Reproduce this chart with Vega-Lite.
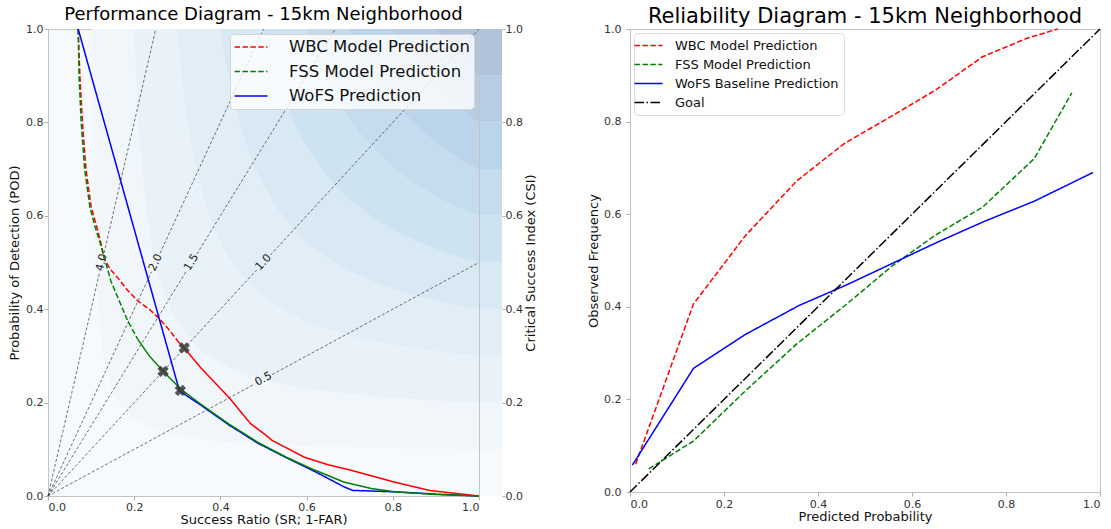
{
  "$schema": "https://vega.github.io/schema/vega-lite/v6.json",
  "background": "white",
  "padding": {"left": 8, "top": 5, "right": 5, "bottom": 0},
  "datasets": {
    "bands": [
      {"level": 1, "sr": 0.1, "pod": 1}, {"level": 1, "sr": 0.1047, "pod": 0.6897}, {"level": 1, "sr": 0.1121, "pod": 0.4808}, {"level": 1, "sr": 0.1247, "pod": 0.3356}, {"level": 1, "sr": 0.146, "pod": 0.241}, {"level": 1, "sr": 0.1818, "pod": 0.1818}, {"level": 1, "sr": 0.241, "pod": 0.146}, {"level": 1, "sr": 0.3356, "pod": 0.1247}, {"level": 1, "sr": 0.4808, "pod": 0.1121}, {"level": 1, "sr": 0.6897, "pod": 0.1047}, {"level": 1, "sr": 1, "pod": 0.1},
      {"level": 2, "sr": 0.2, "pod": 1}, {"level": 2, "sr": 0.2083, "pod": 0.8333}, {"level": 2, "sr": 0.2212, "pod": 0.6757}, {"level": 2, "sr": 0.2427, "pod": 0.5319}, {"level": 2, "sr": 0.2778, "pod": 0.4167}, {"level": 2, "sr": 0.3333, "pod": 0.3333}, {"level": 2, "sr": 0.4167, "pod": 0.2778}, {"level": 2, "sr": 0.5319, "pod": 0.2427}, {"level": 2, "sr": 0.6757, "pod": 0.2212}, {"level": 2, "sr": 0.8333, "pod": 0.2083}, {"level": 2, "sr": 1, "pod": 0.2},
      {"level": 3, "sr": 0.3, "pod": 1}, {"level": 3, "sr": 0.3109, "pod": 0.8955}, {"level": 3, "sr": 0.3275, "pod": 0.7813}, {"level": 3, "sr": 0.3546, "pod": 0.6608}, {"level": 3, "sr": 0.3974, "pod": 0.5505}, {"level": 3, "sr": 0.4615, "pod": 0.4615}, {"level": 3, "sr": 0.5505, "pod": 0.3974}, {"level": 3, "sr": 0.6608, "pod": 0.3546}, {"level": 3, "sr": 0.7813, "pod": 0.3275}, {"level": 3, "sr": 0.8955, "pod": 0.3109}, {"level": 3, "sr": 1, "pod": 0.3},
      {"level": 4, "sr": 0.4, "pod": 1}, {"level": 4, "sr": 0.4124, "pod": 0.9302}, {"level": 4, "sr": 0.431, "pod": 0.8475}, {"level": 4, "sr": 0.4608, "pod": 0.7519}, {"level": 4, "sr": 0.5063, "pod": 0.6557}, {"level": 4, "sr": 0.5714, "pod": 0.5714}, {"level": 4, "sr": 0.6557, "pod": 0.5063}, {"level": 4, "sr": 0.7519, "pod": 0.4608}, {"level": 4, "sr": 0.8475, "pod": 0.431}, {"level": 4, "sr": 0.9302, "pod": 0.4124}, {"level": 4, "sr": 1, "pod": 0.4},
      {"level": 5, "sr": 0.5, "pod": 1}, {"level": 5, "sr": 0.5128, "pod": 0.9524}, {"level": 5, "sr": 0.5319, "pod": 0.8929}, {"level": 5, "sr": 0.5618, "pod": 0.8197}, {"level": 5, "sr": 0.6061, "pod": 0.7407}, {"level": 5, "sr": 0.6667, "pod": 0.6667}, {"level": 5, "sr": 0.7407, "pod": 0.6061}, {"level": 5, "sr": 0.8197, "pod": 0.5618}, {"level": 5, "sr": 0.8929, "pod": 0.5319}, {"level": 5, "sr": 0.9524, "pod": 0.5128}, {"level": 5, "sr": 1, "pod": 0.5},
      {"level": 6, "sr": 0.6, "pod": 1}, {"level": 6, "sr": 0.6122, "pod": 0.9677}, {"level": 6, "sr": 0.6303, "pod": 0.9259}, {"level": 6, "sr": 0.6579, "pod": 0.8721}, {"level": 6, "sr": 0.6977, "pod": 0.8108}, {"level": 6, "sr": 0.75, "pod": 0.75}, {"level": 6, "sr": 0.8108, "pod": 0.6977}, {"level": 6, "sr": 0.8721, "pod": 0.6579}, {"level": 6, "sr": 0.9259, "pod": 0.6303}, {"level": 6, "sr": 0.9677, "pod": 0.6122}, {"level": 6, "sr": 1, "pod": 0.6},
      {"level": 7, "sr": 0.7, "pod": 1}, {"level": 7, "sr": 0.7107, "pod": 0.979}, {"level": 7, "sr": 0.7261, "pod": 0.9511}, {"level": 7, "sr": 0.7495, "pod": 0.9138}, {"level": 7, "sr": 0.7821, "pod": 0.8696}, {"level": 7, "sr": 0.8235, "pod": 0.8235}, {"level": 7, "sr": 0.8696, "pod": 0.7821}, {"level": 7, "sr": 0.9138, "pod": 0.7495}, {"level": 7, "sr": 0.9511, "pod": 0.7261}, {"level": 7, "sr": 0.979, "pod": 0.7107}, {"level": 7, "sr": 1, "pod": 0.7},
      {"level": 8, "sr": 0.8, "pod": 1}, {"level": 8, "sr": 0.8081, "pod": 0.9877}, {"level": 8, "sr": 0.8197, "pod": 0.9709}, {"level": 8, "sr": 0.8368, "pod": 0.9479}, {"level": 8, "sr": 0.8602, "pod": 0.9195}, {"level": 8, "sr": 0.8889, "pod": 0.8889}, {"level": 8, "sr": 0.9195, "pod": 0.8602}, {"level": 8, "sr": 0.9479, "pod": 0.8368}, {"level": 8, "sr": 0.9709, "pod": 0.8197}, {"level": 8, "sr": 0.9877, "pod": 0.8081}, {"level": 8, "sr": 1, "pod": 0.8},
      {"level": 9, "sr": 0.9, "pod": 1}, {"level": 9, "sr": 0.9045, "pod": 0.9945}, {"level": 9, "sr": 0.9109, "pod": 0.9868}, {"level": 9, "sr": 0.9202, "pod": 0.9761}, {"level": 9, "sr": 0.9326, "pod": 0.9626}, {"level": 9, "sr": 0.9474, "pod": 0.9474}, {"level": 9, "sr": 0.9626, "pod": 0.9326}, {"level": 9, "sr": 0.9761, "pod": 0.9202}, {"level": 9, "sr": 0.9868, "pod": 0.9109}, {"level": 9, "sr": 0.9945, "pod": 0.9045}, {"level": 9, "sr": 1, "pod": 0.9}
    ],
    "biaslines": [
      {"seg": "4a", "sr": 0, "pod": 0}, {"seg": "4a", "sr": 0.12, "pod": 0.48}, {"seg": "4b", "sr": 0.13, "pod": 0.52}, {"seg": "4b", "sr": 0.25, "pod": 1},
      {"seg": "2a", "sr": 0, "pod": 0}, {"seg": "2a", "sr": 0.24, "pod": 0.48}, {"seg": "2b", "sr": 0.26, "pod": 0.52}, {"seg": "2b", "sr": 0.5, "pod": 1},
      {"seg": "15a", "sr": 0, "pod": 0}, {"seg": "15a", "sr": 0.3213, "pod": 0.482}, {"seg": "15b", "sr": 0.3453, "pod": 0.518}, {"seg": "15b", "sr": 0.6667, "pod": 1},
      {"seg": "1a", "sr": 0, "pod": 0}, {"seg": "1a", "sr": 0.484, "pod": 0.484}, {"seg": "1b", "sr": 0.516, "pod": 0.516}, {"seg": "1b", "sr": 1, "pod": 1},
      {"seg": "05a", "sr": 0, "pod": 0}, {"seg": "05a", "sr": 0.48, "pod": 0.24}, {"seg": "05b", "sr": 0.52, "pod": 0.26}, {"seg": "05b", "sr": 1, "pod": 0.5}
    ],
    "biaslab": [
      {"label": "4.0", "sr": 0.125, "pod": 0.5},
      {"label": "2.0", "sr": 0.25, "pod": 0.5},
      {"label": "1.5", "sr": 0.3333, "pod": 0.5},
      {"label": "1.0", "sr": 0.5, "pod": 0.5},
      {"label": "0.5", "sr": 0.5, "pod": 0.25}
    ],
    "perf": [
      {"series": "WBC Model Prediction", "part": "upper", "sr": 0.07, "pod": 1.0},
      {"series": "WBC Model Prediction", "part": "upper", "sr": 0.074, "pod": 0.9},
      {"series": "WBC Model Prediction", "part": "upper", "sr": 0.08, "pod": 0.8},
      {"series": "WBC Model Prediction", "part": "upper", "sr": 0.088, "pod": 0.7},
      {"series": "WBC Model Prediction", "part": "upper", "sr": 0.1, "pod": 0.62},
      {"series": "WBC Model Prediction", "part": "upper", "sr": 0.112, "pod": 0.58},
      {"series": "WBC Model Prediction", "part": "upper", "sr": 0.122, "pod": 0.545},
      {"series": "WBC Model Prediction", "part": "upper", "sr": 0.131, "pod": 0.507},
      {"series": "WBC Model Prediction", "part": "upper", "sr": 0.145, "pod": 0.485},
      {"series": "WBC Model Prediction", "part": "upper", "sr": 0.162, "pod": 0.467},
      {"series": "WBC Model Prediction", "part": "upper", "sr": 0.185, "pod": 0.44},
      {"series": "WBC Model Prediction", "part": "upper", "sr": 0.208, "pod": 0.418},
      {"series": "WBC Model Prediction", "part": "upper", "sr": 0.235, "pod": 0.4},
      {"series": "WBC Model Prediction", "part": "upper", "sr": 0.258, "pod": 0.38},
      {"series": "WBC Model Prediction", "part": "upper", "sr": 0.28, "pod": 0.357},
      {"series": "WBC Model Prediction", "part": "upper", "sr": 0.301, "pod": 0.332},
      {"series": "WBC Model Prediction", "part": "lower", "sr": 0.301, "pod": 0.332},
      {"series": "WBC Model Prediction", "part": "lower", "sr": 0.316, "pod": 0.317},
      {"series": "WBC Model Prediction", "part": "lower", "sr": 0.354, "pod": 0.275},
      {"series": "WBC Model Prediction", "part": "lower", "sr": 0.39, "pod": 0.24},
      {"series": "WBC Model Prediction", "part": "lower", "sr": 0.42, "pod": 0.211},
      {"series": "WBC Model Prediction", "part": "lower", "sr": 0.47, "pod": 0.155},
      {"series": "WBC Model Prediction", "part": "lower", "sr": 0.5, "pod": 0.134},
      {"series": "WBC Model Prediction", "part": "lower", "sr": 0.52, "pod": 0.119},
      {"series": "WBC Model Prediction", "part": "lower", "sr": 0.595, "pod": 0.083},
      {"series": "WBC Model Prediction", "part": "lower", "sr": 0.65, "pod": 0.067},
      {"series": "WBC Model Prediction", "part": "lower", "sr": 0.703, "pod": 0.055},
      {"series": "WBC Model Prediction", "part": "lower", "sr": 0.803, "pod": 0.03},
      {"series": "WBC Model Prediction", "part": "lower", "sr": 0.886, "pod": 0.012},
      {"series": "WBC Model Prediction", "part": "lower", "sr": 1.0, "pod": 0.0},
      {"series": "FSS Model Prediction", "part": "upper", "sr": 0.07, "pod": 1.0},
      {"series": "FSS Model Prediction", "part": "upper", "sr": 0.072, "pod": 0.9},
      {"series": "FSS Model Prediction", "part": "upper", "sr": 0.077, "pod": 0.8},
      {"series": "FSS Model Prediction", "part": "upper", "sr": 0.085, "pod": 0.7},
      {"series": "FSS Model Prediction", "part": "upper", "sr": 0.097, "pod": 0.62},
      {"series": "FSS Model Prediction", "part": "upper", "sr": 0.108, "pod": 0.58},
      {"series": "FSS Model Prediction", "part": "upper", "sr": 0.12, "pod": 0.545},
      {"series": "FSS Model Prediction", "part": "upper", "sr": 0.133, "pod": 0.503},
      {"series": "FSS Model Prediction", "part": "upper", "sr": 0.146, "pod": 0.46},
      {"series": "FSS Model Prediction", "part": "upper", "sr": 0.162, "pod": 0.425},
      {"series": "FSS Model Prediction", "part": "upper", "sr": 0.185, "pod": 0.375},
      {"series": "FSS Model Prediction", "part": "upper", "sr": 0.208, "pod": 0.336},
      {"series": "FSS Model Prediction", "part": "lower", "sr": 0.208, "pod": 0.336},
      {"series": "FSS Model Prediction", "part": "lower", "sr": 0.235, "pod": 0.3},
      {"series": "FSS Model Prediction", "part": "lower", "sr": 0.267, "pod": 0.267},
      {"series": "FSS Model Prediction", "part": "lower", "sr": 0.308, "pod": 0.229},
      {"series": "FSS Model Prediction", "part": "lower", "sr": 0.354, "pod": 0.197},
      {"series": "FSS Model Prediction", "part": "lower", "sr": 0.42, "pod": 0.154},
      {"series": "FSS Model Prediction", "part": "lower", "sr": 0.487, "pod": 0.115},
      {"series": "FSS Model Prediction", "part": "lower", "sr": 0.553, "pod": 0.083},
      {"series": "FSS Model Prediction", "part": "lower", "sr": 0.62, "pod": 0.055},
      {"series": "FSS Model Prediction", "part": "lower", "sr": 0.686, "pod": 0.03},
      {"series": "FSS Model Prediction", "part": "lower", "sr": 0.75, "pod": 0.016},
      {"series": "FSS Model Prediction", "part": "lower", "sr": 0.803, "pod": 0.009},
      {"series": "FSS Model Prediction", "part": "lower", "sr": 0.9, "pod": 0.003},
      {"series": "FSS Model Prediction", "part": "lower", "sr": 1.0, "pod": 0.0},
      {"series": "WoFS Prediction", "part": "upper", "sr": 0.07, "pod": 1.0},
      {"series": "WoFS Prediction", "part": "upper", "sr": 0.305, "pod": 0.225},
      {"series": "WoFS Prediction", "part": "upper", "sr": 0.354, "pod": 0.195},
      {"series": "WoFS Prediction", "part": "upper", "sr": 0.42, "pod": 0.152},
      {"series": "WoFS Prediction", "part": "upper", "sr": 0.487, "pod": 0.113},
      {"series": "WoFS Prediction", "part": "upper", "sr": 0.553, "pod": 0.082},
      {"series": "WoFS Prediction", "part": "upper", "sr": 0.62, "pod": 0.052},
      {"series": "WoFS Prediction", "part": "upper", "sr": 0.686, "pod": 0.02},
      {"series": "WoFS Prediction", "part": "upper", "sr": 0.707, "pod": 0.012},
      {"series": "WoFS Prediction", "part": "upper", "sr": 0.803, "pod": 0.009},
      {"series": "WoFS Prediction", "part": "upper", "sr": 0.9, "pod": 0.004},
      {"series": "WoFS Prediction", "part": "upper", "sr": 1.0, "pod": 0.0}
    ],
    "markers": [
      {"series": "WBC Model Prediction", "sr": 0.316, "pod": 0.317},
      {"series": "FSS Model Prediction", "sr": 0.267, "pod": 0.267},
      {"series": "WoFS Prediction", "sr": 0.307, "pod": 0.226}
    ],
    "cbar": [
      {"level": 0, "lo": 0.0, "hi": 0.1}, {"level": 1, "lo": 0.1, "hi": 0.2}, {"level": 2, "lo": 0.2, "hi": 0.3}, {"level": 3, "lo": 0.3, "hi": 0.4}, {"level": 4, "lo": 0.4, "hi": 0.5},
      {"level": 5, "lo": 0.5, "hi": 0.6}, {"level": 6, "lo": 0.6, "hi": 0.7}, {"level": 7, "lo": 0.7, "hi": 0.8}, {"level": 8, "lo": 0.8, "hi": 0.9}, {"level": 9, "lo": 0.9, "hi": 1.0}
    ],
    "rel": [
      {"series": "WBC Model Prediction", "p": 0.012, "f": 0.06},
      {"series": "WBC Model Prediction", "p": 0.135, "f": 0.406},
      {"series": "WBC Model Prediction", "p": 0.245, "f": 0.553},
      {"series": "WBC Model Prediction", "p": 0.355, "f": 0.672},
      {"series": "WBC Model Prediction", "p": 0.455, "f": 0.752},
      {"series": "WBC Model Prediction", "p": 0.55, "f": 0.808},
      {"series": "WBC Model Prediction", "p": 0.65, "f": 0.868},
      {"series": "WBC Model Prediction", "p": 0.75, "f": 0.94},
      {"series": "WBC Model Prediction", "p": 0.845, "f": 0.98},
      {"series": "WBC Model Prediction", "p": 0.91, "f": 1.0},
      {"series": "FSS Model Prediction", "p": 0.04, "f": 0.05},
      {"series": "FSS Model Prediction", "p": 0.135, "f": 0.11},
      {"series": "FSS Model Prediction", "p": 0.245, "f": 0.218},
      {"series": "FSS Model Prediction", "p": 0.355, "f": 0.32},
      {"series": "FSS Model Prediction", "p": 0.46, "f": 0.405},
      {"series": "FSS Model Prediction", "p": 0.56, "f": 0.49},
      {"series": "FSS Model Prediction", "p": 0.65, "f": 0.555},
      {"series": "FSS Model Prediction", "p": 0.75, "f": 0.615},
      {"series": "FSS Model Prediction", "p": 0.86, "f": 0.72},
      {"series": "FSS Model Prediction", "p": 0.94, "f": 0.862},
      {"series": "WoFS Baseline Prediction", "p": 0.005, "f": 0.058},
      {"series": "WoFS Baseline Prediction", "p": 0.135, "f": 0.267},
      {"series": "WoFS Baseline Prediction", "p": 0.245, "f": 0.34},
      {"series": "WoFS Baseline Prediction", "p": 0.36, "f": 0.403},
      {"series": "WoFS Baseline Prediction", "p": 0.46, "f": 0.447},
      {"series": "WoFS Baseline Prediction", "p": 0.565, "f": 0.497},
      {"series": "WoFS Baseline Prediction", "p": 0.655, "f": 0.54},
      {"series": "WoFS Baseline Prediction", "p": 0.755, "f": 0.585},
      {"series": "WoFS Baseline Prediction", "p": 0.86, "f": 0.628},
      {"series": "WoFS Baseline Prediction", "p": 0.985, "f": 0.69},
      {"series": "Goal", "p": 0.0, "f": 0.0},
      {"series": "Goal", "p": 1.0, "f": 1.0}
    ]
  },
  "hconcat": [
    {
      "hconcat": [
        {
          "width": 431,
          "height": 467,
          "title": {"text": "Performance Diagram - 15km Neighborhood", "fontSize": 18, "fontWeight": "normal", "offset": -1},
          "view": {"fill": "#f7fafd", "stroke": "#c4c4c4"},
          "layer": [
            {
              "data": {"name": "bands"},
              "mark": {"type": "area", "interpolate": "monotone", "opacity": 1, "clip": true},
              "encoding": {
                "x": {"field": "sr", "type": "quantitative", "scale": {"domain": [0, 1], "nice": false},
                      "axis": {"title": "Success Ratio (SR; 1-FAR)", "values": [0, 0.2, 0.4, 0.6, 0.8, 1.0], "format": ".1f", "labelPadding": 1, "titlePadding": 1}},
                "y": {"field": "pod", "type": "quantitative", "scale": {"domain": [0, 1], "nice": false},
                      "axis": {"title": "Probability of Detection (POD)", "values": [0, 0.2, 0.4, 0.6, 0.8, 1.0], "format": ".1f", "labelPadding": 1, "titlePadding": 4}},
                "y2": {"datum": 1},
                "fill": {"field": "level", "type": "ordinal",
                         "scale": {"domain": [0, 1, 2, 3, 4, 5, 6, 7, 8, 9], "range": ["#f7fafd", "#f1f6fb", "#eaf2f9", "#e2eef7", "#d8e9f4", "#cee3f1", "#c4dced", "#bcd4e9", "#b6cde3", "#b0c3d8"]},
                         "legend": null}
              }
            },
            {
              "data": {"name": "biaslines"},
              "mark": {"type": "line", "strokeDash": [3, 2], "strokeWidth": 0.7, "color": "#333333"},
              "encoding": {
                "x": {"field": "sr", "type": "quantitative"},
                "y": {"field": "pod", "type": "quantitative"},
                "detail": {"field": "seg", "type": "nominal"}
              }
            },
            {
              "data": {"name": "biaslab"},
              "transform": [{"filter": "datum.label === '4.0'"}],
              "mark": {"type": "text", "angle": -77, "fontSize": 11, "color": "#222222"},
              "encoding": {"x": {"field": "sr", "type": "quantitative"}, "y": {"field": "pod", "type": "quantitative"}, "text": {"field": "label"}}
            },
            {
              "data": {"name": "biaslab"},
              "transform": [{"filter": "datum.label === '2.0'"}],
              "mark": {"type": "text", "angle": -65, "fontSize": 11, "color": "#222222"},
              "encoding": {"x": {"field": "sr", "type": "quantitative"}, "y": {"field": "pod", "type": "quantitative"}, "text": {"field": "label"}}
            },
            {
              "data": {"name": "biaslab"},
              "transform": [{"filter": "datum.label === '1.5'"}],
              "mark": {"type": "text", "angle": -58, "fontSize": 11, "color": "#222222"},
              "encoding": {"x": {"field": "sr", "type": "quantitative"}, "y": {"field": "pod", "type": "quantitative"}, "text": {"field": "label"}}
            },
            {
              "data": {"name": "biaslab"},
              "transform": [{"filter": "datum.label === '1.0'"}],
              "mark": {"type": "text", "angle": -47, "fontSize": 11, "color": "#222222"},
              "encoding": {"x": {"field": "sr", "type": "quantitative"}, "y": {"field": "pod", "type": "quantitative"}, "text": {"field": "label"}}
            },
            {
              "data": {"name": "biaslab"},
              "transform": [{"filter": "datum.label === '0.5'"}],
              "mark": {"type": "text", "angle": -28, "fontSize": 11, "color": "#222222"},
              "encoding": {"x": {"field": "sr", "type": "quantitative"}, "y": {"field": "pod", "type": "quantitative"}, "text": {"field": "label"}}
            },
            {
              "data": {"name": "perf"},
              "transform": [{"filter": "datum.part === 'upper'"}],
              "mark": {"type": "line", "strokeWidth": 1.5},
              "encoding": {
                "x": {"field": "sr", "type": "quantitative"},
                "y": {"field": "pod", "type": "quantitative"},
                "color": {"field": "series", "type": "nominal",
                          "scale": {"domain": ["WBC Model Prediction", "FSS Model Prediction", "WoFS Prediction"], "range": ["#ff0000", "#008000", "#0000ff"]},
                          "legend": {"orient": "top-right", "title": null, "labelFontSize": 16.5, "labelColor": "#111", "symbolType": "M-2.06,0H2.06", "symbolSize": 256, "symbolStrokeWidth": 1.5, "symbolOffset": 8, "fillColor": "rgba(255,255,255,0.8)", "strokeColor": "#d6d6d6", "cornerRadius": 4, "padding": 4, "offset": 5, "rowPadding": 6.5, "labelLimit": 400, "labelOffset": 29}},
                "strokeDash": {"field": "series", "type": "nominal",
                          "scale": {"domain": ["WBC Model Prediction", "FSS Model Prediction", "WoFS Prediction"], "range": [[5.5, 2.4], [5.5, 2.4], [1, 0]]},
                          "legend": {"orient": "top-right", "title": null, "labelFontSize": 16.5, "labelColor": "#111", "symbolType": "M-2.06,0H2.06", "symbolSize": 256, "symbolStrokeWidth": 1.5, "symbolOffset": 8, "fillColor": "rgba(255,255,255,0.8)", "strokeColor": "#d6d6d6", "cornerRadius": 4, "padding": 4, "offset": 5, "rowPadding": 6.5, "labelLimit": 400, "labelOffset": 29}}
              }
            },
            {
              "data": {"name": "perf"},
              "transform": [{"filter": "datum.part === 'lower'"}],
              "mark": {"type": "line", "strokeWidth": 1.5},
              "encoding": {
                "x": {"field": "sr", "type": "quantitative"},
                "y": {"field": "pod", "type": "quantitative"},
                "color": {"field": "series", "type": "nominal"}
              }
            },
            {
              "data": {"name": "markers"},
              "mark": {"type": "point", "shape": "cross", "angle": 45, "filled": true, "size": 130, "color": "#383838", "opacity": 0.85},
              "encoding": {
                "x": {"field": "sr", "type": "quantitative"},
                "y": {"field": "pod", "type": "quantitative"}
              }
            }
          ]
        },
        {
          "width": 22,
          "height": 467,
          "view": {"stroke": null},
          "data": {"name": "cbar"},
          "mark": {"type": "rect"},
          "encoding": {
            "y": {"field": "lo", "type": "quantitative", "scale": {"domain": [0, 1], "nice": false},
                  "axis": {"orient": "right", "title": "Critical Success Index (CSI)", "values": [0, 0.2, 0.4, 0.6, 0.8, 1.0], "format": ".1f", "domain": false, "tickSize": 3, "titleAngle": 270, "titleBaseline": "top", "labelPadding": 0, "titlePadding": 2}},
            "y2": {"field": "hi"},
            "fill": {"field": "level", "type": "ordinal",
                     "scale": {"domain": [0, 1, 2, 3, 4, 5, 6, 7, 8, 9], "range": ["#f7fafd", "#f1f6fb", "#eaf2f9", "#e2eef7", "#d8e9f4", "#cee3f1", "#c4dced", "#bcd4e9", "#b6cde3", "#b0c3d8"]},
                     "legend": null}
          }
        }
      ],
      "spacing": 1,
      "bounds": "flush",
      "resolve": {
        "scale": {"y": "independent", "fill": "independent", "color": "independent", "strokeDash": "independent"},
        "axis": {"y": "independent"},
        "legend": {"color": "independent", "strokeDash": "independent", "fill": "independent"}
      }
    },
    {
      "width": 470,
      "height": 463,
      "title": {"text": "Reliability Diagram - 15km Neighborhood", "fontSize": 21, "fontWeight": "normal", "offset": -4},
      "view": {"stroke": "#c4c4c4"},
      "data": {"name": "rel"},
      "mark": {"type": "line", "strokeWidth": 1.5},
      "encoding": {
        "x": {"field": "p", "type": "quantitative", "scale": {"domain": [0, 1], "nice": false},
              "axis": {"title": "Predicted Probability", "values": [0, 0.2, 0.4, 0.6, 0.8, 1.0], "format": ".1f", "labelPadding": 2, "titlePadding": 1}},
        "y": {"field": "f", "type": "quantitative", "scale": {"domain": [0, 1], "nice": false},
              "axis": {"title": "Observed Frequency", "values": [0, 0.2, 0.4, 0.6, 0.8, 1.0], "format": ".1f", "labelPadding": 5, "titlePadding": 3}},
        "color": {"field": "series", "type": "nominal",
                  "scale": {"domain": ["WBC Model Prediction", "FSS Model Prediction", "WoFS Baseline Prediction", "Goal"], "range": ["#ff0000", "#008000", "#0000ff", "#000000"]},
                  "legend": {"orient": "top-left", "title": null, "labelFontSize": 13, "labelColor": "#111", "symbolType": "M-2.15,0H2.15", "symbolSize": 169, "symbolStrokeWidth": 1.5, "symbolOffset": 2, "fillColor": "rgba(255,255,255,0.8)", "strokeColor": "#dddddd", "cornerRadius": 4, "padding": 5, "offset": 4, "rowPadding": 4, "labelLimit": 400, "labelOffset": 19}},
        "strokeDash": {"field": "series", "type": "nominal",
                  "scale": {"domain": ["WBC Model Prediction", "FSS Model Prediction", "WoFS Baseline Prediction", "Goal"], "range": [[5.5, 2.4], [5.5, 2.4], [1, 0], [9.6, 2.4, 1.5, 2.4]]},
                  "legend": {"orient": "top-left", "title": null, "labelFontSize": 13, "labelColor": "#111", "symbolType": "M-2.15,0H2.15", "symbolSize": 169, "symbolStrokeWidth": 1.5, "symbolOffset": 2, "fillColor": "rgba(255,255,255,0.8)", "strokeColor": "#dddddd", "cornerRadius": 4, "padding": 5, "offset": 4, "rowPadding": 4, "labelLimit": 400, "labelOffset": 19}}
      }
    }
  ],
  "spacing": 49,
  "resolve": {
    "scale": {"x": "independent", "y": "independent", "color": "independent", "strokeDash": "independent", "fill": "independent"},
    "legend": {"color": "independent", "strokeDash": "independent", "fill": "independent"}
  },
  "config": {
    "font": "DejaVu Sans",
    "axis": {"grid": false, "labelFont": "DejaVu Sans", "labelFontSize": 11, "labelColor": "#333333", "titleFont": "DejaVu Sans", "titleFontSize": 13, "titleFontWeight": "normal", "titleColor": "#111111", "tickColor": "#b0b0b0", "tickSize": 4, "domain": false},
    "title": {"font": "DejaVu Sans", "fontWeight": "normal", "color": "#000000"},
    "legend": {"labelFont": "DejaVu Sans"}
  }
}
